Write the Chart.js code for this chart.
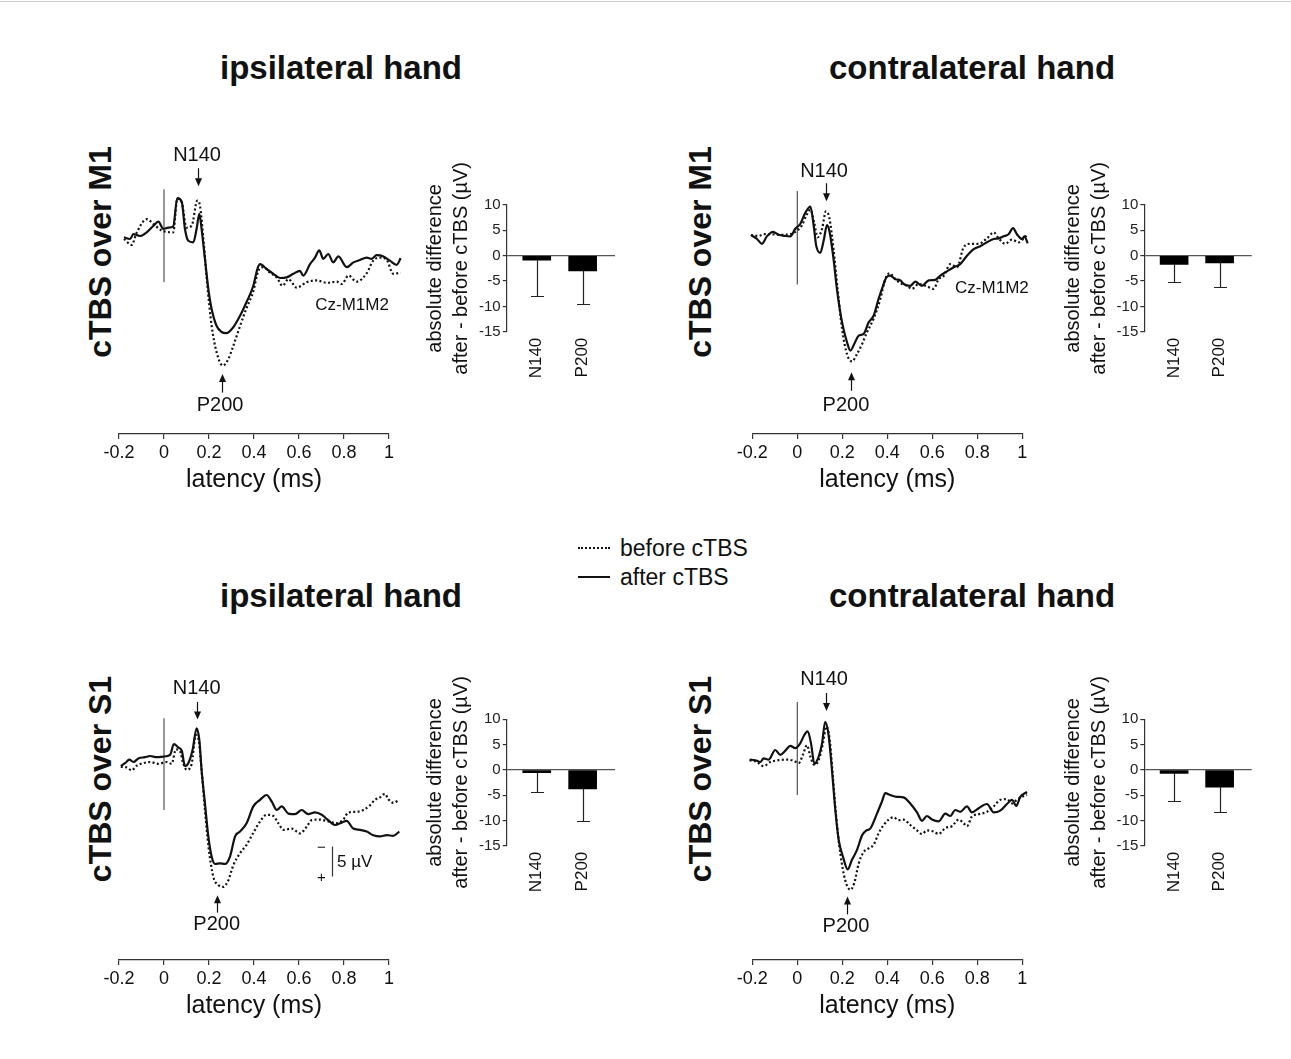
<!DOCTYPE html>
<html><head><meta charset="utf-8">
<script src="https://cdn.jsdelivr.net/npm/chart.js@4.4.1/dist/chart.umd.min.js"></script>
<style>
html,body{margin:0;padding:0;background:#fff;}
#wrap{position:relative;width:1291px;height:1059px;overflow:hidden;font-family:'Liberation Sans',Arial,sans-serif;color:#111;background:#fff;}
#wrap canvas{position:absolute;left:0;top:0;}
.t{position:absolute;white-space:nowrap;transform:translate(-50%,-50%);}
.h{font-weight:bold;font-size:33px;}
.r{position:absolute;white-space:nowrap;font-weight:bold;font-size:32px;transform:translate(-50%,-50%) rotate(-90deg);}
.lg{position:absolute;white-space:nowrap;font-size:23px;transform:translateY(-50%);}
.smp{position:absolute;width:32px;height:0;}
#topline{position:absolute;left:0;top:1px;width:1291px;height:1px;background:#cfcfcf;}
</style></head>
<body><div id="wrap">
<div id="topline"></div>
<div class="t h" style="left:341px;top:68px">ipsilateral hand</div>
<div class="t h" style="left:972px;top:68px">contralateral hand</div>
<div class="t h" style="left:341px;top:596px">ipsilateral hand</div>
<div class="t h" style="left:972px;top:596px">contralateral hand</div>
<div class="r" style="left:100px;top:252px">cTBS over M1</div>
<div class="r" style="left:700px;top:252px">cTBS over M1</div>
<div class="r" style="left:100px;top:779px">cTBS over S1</div>
<div class="r" style="left:700px;top:779px">cTBS over S1</div>
<div class="smp" style="left:578px;top:547px;border-top:2px dotted #111"></div>
<div class="lg" style="left:620px;top:548px">before cTBS</div>
<div class="smp" style="left:578px;top:576px;border-top:2px solid #111"></div>
<div class="lg" style="left:620px;top:577px">after cTBS</div>
<canvas id="w1" width="1291" height="1059"></canvas>
<canvas id="w2" width="1291" height="1059"></canvas>
<canvas id="w3" width="1291" height="1059"></canvas>
<canvas id="w4" width="1291" height="1059"></canvas>
<canvas id="b1" width="1291" height="1059"></canvas>
<canvas id="b2" width="1291" height="1059"></canvas>
<canvas id="b3" width="1291" height="1059"></canvas>
<canvas id="b4" width="1291" height="1059"></canvas>
</div>
<script>
// ---------------- DATA ----------------
const latencyTicks = [-0.2, 0, 0.2, 0.4, 0.6, 0.8, 1];
const latencyLabels = ['-0.2', '0', '0.2', '0.4', '0.6', '0.8', '1'];
const barCats = ['N140', 'P200'];

// [latency, amplitude µV] (negative plotted upward)
const ipsiM1After = [[-0.178,0.2],[-0.151,0.5],[-0.136,-0.3],[-0.107,0],[-0.077,-0.6],[-0.047,-1.7],[-0.025,-2.4],[-0.003,-1.2],[0.019,-1.4],[0.041,-1.6],[0.059,-6.3],[0.079,-5.7],[0.093,-1.2],[0.108,0.8],[0.13,1.05],[0.145,-1.2],[0.157,-3.7],[0.167,-1.2],[0.182,3.8],[0.197,8.8],[0.212,12.2],[0.234,15],[0.256,16],[0.276,16.2],[0.308,15.2],[0.338,13.3],[0.367,11],[0.397,8.3],[0.415,5.5],[0.427,4.7],[0.456,5.5],[0.486,6.3],[0.516,7],[0.545,6.9],[0.575,6.3],[0.604,5.8],[0.619,6.6],[0.649,4.7],[0.671,3.6],[0.69,2.4],[0.708,3.8],[0.73,3],[0.752,4.4],[0.775,3.4],[0.812,5.2],[0.842,4.4],[0.871,4],[0.901,3.6],[0.923,3.8],[0.945,3.2],[0.975,3.4],[1.004,4.1],[1.034,4.8],[1.052,3.7]];
const ipsiM1Before = [[-0.178,0.5],[-0.144,1.5],[-0.121,-0.6],[-0.077,-2.8],[-0.047,-2],[-0.01,-0.9],[0.012,-0.7],[0.041,-0.6],[0.059,-6.2],[0.079,-5.6],[0.1,-1.4],[0.123,-1.7],[0.148,-5.9],[0.16,-5],[0.175,0.5],[0.19,7.2],[0.212,15],[0.234,19.4],[0.261,21.6],[0.286,20.5],[0.308,18.3],[0.338,15],[0.367,12],[0.397,9.2],[0.419,5.8],[0.441,5.2],[0.471,6.1],[0.501,6.9],[0.527,8.3],[0.553,7.2],[0.59,8.6],[0.634,7.7],[0.679,7.4],[0.723,7.8],[0.768,7.6],[0.79,8],[0.82,6.6],[0.856,7.6],[0.901,6.2],[0.93,4.1],[0.96,3.6],[0.99,4],[1.019,6.3],[1.052,6.1]];
const contraM1After = [[-0.206,-0.17],[-0.179,0.5],[-0.157,1.3],[-0.135,0.06],[-0.108,-0.7],[-0.083,-0.2],[-0.053,0],[-0.031,0.06],[-0.009,-1.2],[0.013,-2],[0.036,-3.9],[0.058,-4.9],[0.073,-1.7],[0.084,1.6],[0.102,2.8],[0.117,0.8],[0.132,-1.8],[0.144,-0.6],[0.161,3.8],[0.176,8.8],[0.199,14.4],[0.221,17.7],[0.236,19.1],[0.253,18],[0.273,16.6],[0.295,16.3],[0.317,14.4],[0.339,13.3],[0.361,10.5],[0.381,8.3],[0.396,6.9],[0.413,6.6],[0.436,7.2],[0.458,7.4],[0.473,8],[0.502,8.3],[0.524,7.6],[0.554,8.3],[0.584,7.4],[0.613,7.3],[0.636,6.6],[0.665,5.9],[0.695,5.2],[0.724,4.7],[0.754,3.3],[0.784,2.2],[0.813,1.7],[0.843,1.05],[0.873,0.5],[0.895,0.4],[0.917,0.06],[0.939,-0.3],[0.959,-1.3],[0.976,-0.3],[0.999,0.5],[1.009,0.06],[1.024,1.2]];
const contraM1Before = [[-0.206,-0.17],[-0.172,0],[-0.15,-0.3],[-0.12,-0.3],[-0.076,-0.2],[-0.031,-0.3],[-0.001,-0.9],[0.021,-1.8],[0.04,-3.4],[0.058,-4.4],[0.076,-2],[0.09,0.2],[0.11,-1.2],[0.127,-4.1],[0.142,-3.1],[0.161,2.2],[0.179,8.8],[0.199,15.5],[0.221,19.7],[0.243,20.9],[0.265,19.7],[0.288,18],[0.31,16],[0.339,13.8],[0.369,10.5],[0.391,7.2],[0.41,6.2],[0.436,7.2],[0.465,8],[0.487,8.3],[0.51,8.8],[0.539,8],[0.576,8.4],[0.606,8.8],[0.628,7.2],[0.65,6.7],[0.68,4.7],[0.71,5.2],[0.739,1.9],[0.769,1.3],[0.806,1.3],[0.843,0.4],[0.873,-0.6],[0.895,0.4],[0.924,1.3],[0.954,0.6],[0.984,1.05],[1.006,0.4],[1.024,-0.3]];
const ipsiS1After = [[-0.192,0.67],[-0.173,0.2],[-0.154,-0.4],[-0.136,0],[-0.114,-0.6],[-0.084,-0.8],[-0.062,-1],[-0.033,-0.8],[-0.003,-0.9],[0.027,-1.2],[0.044,-3],[0.064,-2.4],[0.079,-1.9],[0.093,0.67],[0.108,0.2],[0.127,-2],[0.145,-5.6],[0.157,-3.7],[0.167,1.3],[0.182,6.9],[0.197,12.4],[0.212,15.8],[0.227,17],[0.249,16.9],[0.271,17],[0.293,15.8],[0.316,12.4],[0.338,11.6],[0.367,10.2],[0.397,7.4],[0.427,6.3],[0.456,5.5],[0.479,6.6],[0.501,8],[0.523,7.4],[0.553,8.6],[0.582,8.7],[0.612,8],[0.641,8.7],[0.671,8.4],[0.701,8.8],[0.73,9.7],[0.76,10.5],[0.79,10.1],[0.812,9.8],[0.841,11.1],[0.871,11.3],[0.901,11.6],[0.93,12.2],[0.96,12.4],[0.99,12.2],[1.019,12.3],[1.046,11.6]];
const ipsiS1Before = [[-0.192,0.8],[-0.166,0.9],[-0.144,1.4],[-0.121,0.6],[-0.092,0.2],[-0.062,0],[-0.025,0.3],[0.012,0],[0.034,0.3],[0.053,-2.1],[0.071,-1.8],[0.086,0.3],[0.101,1.3],[0.123,0.3],[0.142,-4.5],[0.154,-3.7],[0.167,1.3],[0.182,8],[0.197,13.9],[0.219,19.1],[0.241,20.5],[0.264,20.8],[0.286,19.7],[0.308,17.2],[0.338,15.2],[0.367,13.8],[0.397,11.8],[0.427,9.9],[0.456,8.8],[0.486,9],[0.508,10.2],[0.531,11.3],[0.568,11.1],[0.605,11.9],[0.634,10.8],[0.656,9.7],[0.693,9.6],[0.73,9.9],[0.768,10.2],[0.797,9.6],[0.82,8.4],[0.856,8.3],[0.886,8],[0.916,7.2],[0.938,6.3],[0.96,5.9],[0.982,5.3],[0.997,6.2],[1.019,6.8],[1.046,6.3]];
const contraS1After = [[-0.212,-0.4],[-0.187,-0.3],[-0.164,0],[-0.15,-0.6],[-0.127,-0.4],[-0.098,-2],[-0.076,-1.2],[-0.053,-1.9],[-0.031,-2.7],[-0.009,-2.3],[0.013,-3.1],[0.031,-4.5],[0.046,-5.1],[0.061,-3.1],[0.076,0.3],[0.095,-0.9],[0.11,-3.1],[0.124,-6.7],[0.139,-4.5],[0.154,1.3],[0.169,8],[0.184,13],[0.203,15.8],[0.224,17.9],[0.243,16.3],[0.265,14.7],[0.288,12.2],[0.307,11.4],[0.324,11.1],[0.354,8.6],[0.376,6.6],[0.391,5.2],[0.413,5.5],[0.443,5.8],[0.472,5.9],[0.502,6.9],[0.532,8.4],[0.554,9.8],[0.576,9],[0.599,9.6],[0.628,9.9],[0.658,8.6],[0.68,9],[0.702,8],[0.724,8.3],[0.754,7.4],[0.776,8.4],[0.806,7.7],[0.843,7],[0.873,8.4],[0.902,8.1],[0.932,7],[0.954,6.3],[0.973,7.3],[0.991,5.8],[1.021,5]];
const contraS1Before = [[-0.212,-0.3],[-0.179,0],[-0.15,0.7],[-0.12,0],[-0.083,-0.3],[-0.046,-0.4],[-0.016,-0.2],[0.006,0.2],[0.025,-1.2],[0.043,-2.8],[0.058,-0.9],[0.076,0.5],[0.095,-0.3],[0.114,-3.1],[0.129,-5.9],[0.144,-3.7],[0.158,2.4],[0.173,9.1],[0.191,15.2],[0.213,19.7],[0.236,21.3],[0.253,20.2],[0.273,16.9],[0.295,15],[0.317,14.4],[0.339,13.8],[0.361,11.9],[0.384,10.5],[0.406,9.6],[0.428,9.2],[0.45,9.7],[0.472,9.6],[0.502,10.5],[0.532,11.4],[0.554,12],[0.576,11.4],[0.606,11.6],[0.628,12],[0.658,11],[0.687,10.7],[0.717,9.6],[0.739,10.2],[0.754,10.7],[0.776,9.1],[0.806,8.7],[0.843,8.3],[0.873,7.4],[0.902,6.3],[0.932,6.2],[0.954,6.9],[0.976,6.3],[0.999,5.8],[1.021,5.5]];

// stimulus-onset marker (t = 0), amplitude extent in µV
const ipsiM1Marker = [-7.8, 7.7];
const contraM1Marker = [-7.5, 8.1];
const ipsiS1Marker = [-7.3, 8];
const contraS1Marker = [-10, 5.5];

// after - before differences (µV) and error bars
const ipsiM1Diff = [-0.9, -3.0];   const ipsiM1Err = [7.1, 6.6];
const contraM1Diff = [-1.7, -1.45]; const contraM1Err = [3.4, 4.8];
const ipsiS1Diff = [-0.55, -3.75];  const ipsiS1Err = [3.75, 6.35];
const contraS1Diff = [-0.7, -3.4];  const contraS1Err = [5.4, 4.95];

// ---------------- RENDERING ----------------
const W = 1291, H = 1059;
const FAMILY = "'Liberation Sans', Arial, sans-serif";
const INK = '#111';
Chart.defaults.font.family = FAMILY;
Chart.defaults.color = INK;

function annotations(cfg) {
  return {
    id: 'ann',
    afterDatasetsDraw(chart) {
      const ctx = chart.ctx, xs = chart.scales.x, ys = chart.scales.y;
      ctx.save();
      ctx.fillStyle = INK; ctx.strokeStyle = INK;
      (cfg.texts || []).forEach(tx => {
        ctx.font = tx.size + 'px ' + FAMILY;
        ctx.textAlign = tx.align || 'center';
        ctx.textBaseline = 'middle';
        ctx.fillText(tx.text, xs.getPixelForValue(tx.t), ys.getPixelForValue(tx.v));
      });
      (cfg.arrows || []).forEach(a => {
        const x = Math.round(xs.getPixelForValue(a.t)) + 0.5;
        const y1 = ys.getPixelForValue(a.from), y2 = ys.getPixelForValue(a.to);
        const d = Math.sign(y2 - y1);
        ctx.lineWidth = 1.2;
        ctx.beginPath(); ctx.moveTo(x, y1); ctx.lineTo(x, y2 - d * 5); ctx.stroke();
        ctx.beginPath(); ctx.moveTo(x, y2); ctx.lineTo(x - 3.5, y2 - d * 8); ctx.lineTo(x + 3.5, y2 - d * 8); ctx.closePath(); ctx.fill();
      });
      (cfg.vbars || []).forEach(b => {
        const x = Math.round(xs.getPixelForValue(b.t)) + 0.5;
        ctx.lineWidth = 1.2; ctx.strokeStyle = '#333';
        ctx.beginPath(); ctx.moveTo(x, ys.getPixelForValue(b.from)); ctx.lineTo(x, ys.getPixelForValue(b.to)); ctx.stroke();
      });
      ctx.restore();
    }
  };
}

function waveChart(id, after, before, marker, area, ann) {
  return new Chart(document.getElementById(id), {
    type: 'line',
    data: {
      datasets: [
        { data: before.map(p => ({x: p[0], y: p[1]})), borderColor: INK, borderWidth: 2.2, borderDash: [2, 2.4], pointRadius: 0, clip: false, cubicInterpolationMode: 'monotone' },
        { data: after.map(p => ({x: p[0], y: p[1]})), borderColor: INK, borderWidth: 2.2, pointRadius: 0, clip: false, cubicInterpolationMode: 'monotone', borderJoinStyle: 'round' },
        { data: marker.map(v => ({x: 0, y: v})), borderColor: '#555', borderWidth: 1.2, pointRadius: 0, clip: false }
      ]
    },
    options: {
      responsive: false, animation: false, events: [],
      layout: { padding: { left: area.l, right: W - area.r, top: area.t, bottom: H - area.b - 65 } },
      plugins: { legend: { display: false }, tooltip: { enabled: false } },
      scales: {
        x: {
          type: 'linear', position: 'bottom', bounds: 'data',
          afterBuildTicks: s => { s.min = latencyTicks[0]; s.max = latencyTicks[latencyTicks.length - 1]; s.ticks = latencyTicks.map(v => ({value: v})); },
          afterFit: s => { s.height = 65; },
          border: { display: true, color: '#333', width: 1.2 },
          grid: { display: true, drawOnChartArea: false, drawTicks: true, tickLength: 5, color: '#333', lineWidth: 1.2 },
          ticks: { callback: (v, i) => latencyLabels[i], font: { size: 18 }, color: INK, padding: 3, maxRotation: 0, autoSkip: false },
          title: { display: true, text: 'latency (ms)', font: { size: 25 }, color: INK, padding: { top: 4, bottom: 4 } }
        },
        y: { type: 'linear', display: false, reverse: true, min: -16, max: 33 }
      }
    },
    plugins: [annotations(ann)]
  });
}

function errorBars(diffs, errs) {
  return {
    id: 'err',
    afterDatasetsDraw(chart) {
      const ctx = chart.ctx, ys = chart.scales.y;
      const meta = chart.getDatasetMeta(0);
      ctx.save(); ctx.strokeStyle = '#222'; ctx.lineWidth = 1.2;
      meta.data.forEach((bar, i) => {
        const x = Math.round(bar.x) + 0.5;
        const y0 = ys.getPixelForValue(diffs[i]);
        const y1 = Math.round(ys.getPixelForValue(diffs[i] - errs[i])) + 0.5;
        ctx.beginPath(); ctx.moveTo(x, y0); ctx.lineTo(x, y1);
        ctx.moveTo(x - 6.5, y1); ctx.lineTo(x + 6.5, y1); ctx.stroke();
      });
      ctx.restore();
    }
  };
}

function barChart(id, diffs, errs, area) {
  return new Chart(document.getElementById(id), {
    type: 'bar',
    data: { datasets: [{ data: diffs.map((d, i) => ({x: i + 1, y: d})), backgroundColor: '#000', borderWidth: 0, barThickness: 28 }] },
    options: {
      responsive: false, animation: false, events: [],
      layout: { padding: { left: area.l - 88, right: W - area.r, top: area.t, bottom: H - area.b - 60 } },
      plugins: { legend: { display: false }, tooltip: { enabled: false } },
      scales: {
        x: {
          type: 'linear', position: 'bottom', bounds: 'data', offset: false,
          afterBuildTicks: s => { s.min = 0.345; s.max = 2.705; s.ticks = barCats.map((c, i) => ({value: i + 1})); },
          afterFit: s => { s.height = 60; },
          border: { display: false },
          grid: { display: false, drawTicks: false, offset: false },
          ticks: { callback: (v, i) => barCats[i], minRotation: 90, maxRotation: 90, font: { size: 17 }, color: INK, padding: 6, autoSkip: false }
        },
        y: {
          min: -15, max: 10,
          afterFit: s => { s.width = 88; },
          ticks: { stepSize: 5, font: { size: 15 }, color: '#222', padding: 2 },
          border: { display: true, color: '#333', width: 1.2 },
          grid: { drawOnChartArea: true, drawTicks: true, tickLength: 4, lineWidth: 1.2,
                  color: c => (c.tick && c.tick.value === 0) ? '#555' : 'rgba(0,0,0,0)', tickColor: '#333' },
          title: { display: true, text: ['absolute difference', 'after - before cTBS (\u00b5V)'], font: { size: 20, lineHeight: 1.3 }, color: INK, padding: { top: 4, bottom: 4 } }
        }
      }
    },
    plugins: [errorBars(diffs, errs)]
  });
}

// waveform panels
waveChart('w1', ipsiM1After, ipsiM1Before, ipsiM1Marker, { l: 119, r: 389, t: 140, b: 434 }, {
  texts: [ { text: 'N140', t: 0.147, v: -13.5, size: 20 }, { text: 'P200', t: 0.249, v: 28.2, size: 20 }, { text: 'Cz-M1M2', t: 0.836, v: 11.5, size: 17 } ],
  arrows: [ { t: 0.151, from: -11.3, to: -8.3 }, { t: 0.258, from: 26.1, to: 23.0 } ]
});
waveChart('w2', contraM1After, contraM1Before, contraM1Marker, { l: 752.3, r: 1022.3, t: 140, b: 434 }, {
  texts: [ { text: 'N140', t: 0.119, v: -10.7, size: 20 }, { text: 'P200', t: 0.216, v: 28.2, size: 20 }, { text: 'Cz-M1M2', t: 0.865, v: 8.7, size: 17 } ],
  arrows: [ { t: 0.126, from: -8.8, to: -5.8 }, { t: 0.237, from: 25.8, to: 22.7 } ]
});
waveChart('w3', ipsiS1After, ipsiS1Before, ipsiS1Marker, { l: 119, r: 389, t: 666, b: 960 }, {
  texts: [ { text: 'N140', t: 0.145, v: -12.3, size: 20 }, { text: 'P200', t: 0.234, v: 27.0, size: 20 },
           { text: '\u2212', t: 0.70, v: 14.3, size: 15 }, { text: '+', t: 0.70, v: 19.3, size: 15 }, { text: '5 \u00b5V', t: 0.769, v: 16.8, size: 17, align: 'left' } ],
  arrows: [ { t: 0.145, from: -10.0, to: -7.1 }, { t: 0.237, from: 25.1, to: 22.2 } ],
  vbars: [ { t: 0.745, from: 14.1, to: 19.1 } ]
});
waveChart('w4', contraS1After, contraS1Before, contraS1Marker, { l: 752.3, r: 1022.3, t: 666, b: 960 }, {
  texts: [ { text: 'N140', t: 0.119, v: -13.7, size: 20 }, { text: 'P200', t: 0.216, v: 27.4, size: 20 } ],
  arrows: [ { t: 0.126, from: -11.5, to: -8.5 }, { t: 0.222, from: 25.4, to: 22.4 } ]
});

// bar panels
barChart('b1', ipsiM1Diff, ipsiM1Err, { l: 506.7, r: 615, t: 205, b: 331.7 });
barChart('b2', contraM1Diff, contraM1Err, { l: 1144.3, r: 1251.7, t: 205, b: 331.7 });
barChart('b3', ipsiS1Diff, ipsiS1Err, { l: 506.7, r: 615, t: 719.3, b: 845.7 });
barChart('b4', contraS1Diff, contraS1Err, { l: 1144.3, r: 1251.7, t: 719.3, b: 845.7 });
</script>
</body></html>
